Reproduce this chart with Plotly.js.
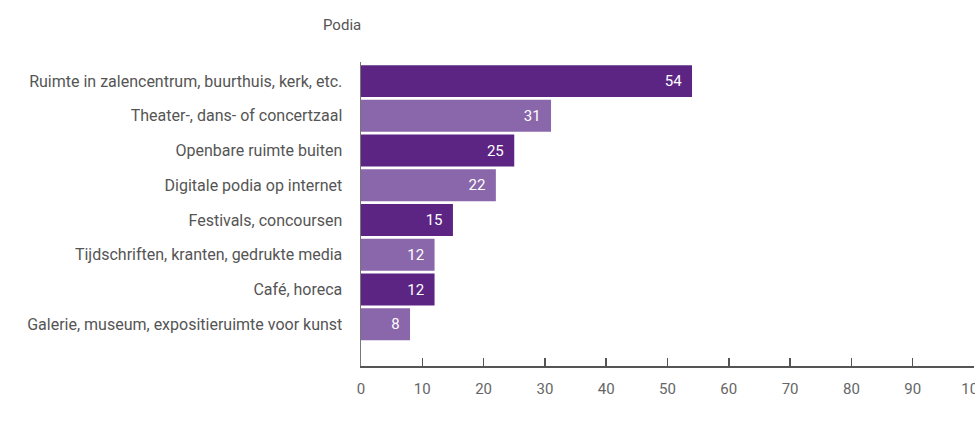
<!DOCTYPE html>
<html><head><meta charset="utf-8">
<script src="https://cdn.plot.ly/plotly-3.0.1.min.js"></script>
<style>html,body{margin:0;padding:0;background:#fff;overflow:hidden}#chart{width:975px;height:445px}</style>
</head><body><div id="chart"></div>
<script>
const categories = [
  "Ruimte in zalencentrum, buurthuis, kerk, etc.",
  "Theater-, dans- of concertzaal",
  "Openbare ruimte buiten",
  "Digitale podia op internet",
  "Festivals, concoursen",
  "Tijdschriften, kranten, gedrukte media",
  "Café, horeca",
  "Galerie, museum, expositieruimte voor kunst"
];
const values = [54, 31, 25, 22, 15, 12, 12, 8];
const xTicks = [0,10,20,30,40,50,60,70,80,90,100];
const dark = "#5c2483", light = "#8a67aa";
const colors = categories.map((c,i) => i % 2 === 0 ? dark : light);

const trace = {
  type: "bar", orientation: "h",
  y: categories, x: values,
  marker: {color: colors, line: {width: 0}},
  width: 0.92,
  text: values.map(v => v + "\u00a0\u00a0"), textposition: "inside", insidetextanchor: "end",
  textfont: {color: "#ffffff", size: 15, family: "Roboto, sans-serif"},
  hoverinfo: "none", cliponaxis: false
};
const layout = {
  width: 975, height: 445,
  margin: {l: 361, r: 1, t: 62, b: 79},
  paper_bgcolor: "#fff", plot_bgcolor: "#fff",
  showlegend: false,
  font: {family: "Roboto, sans-serif", color: "#555", size: 15},
  annotations: [{text: "Podia", xref: "paper", yref: "paper", x: -0.0646, y: 1.0, xanchor: "left", yanchor: "bottom", yshift: 26, showarrow: false, font: {size: 15, color: "#555"}}],
  xaxis: {
    range: [0, 100], tickvals: xTicks, ticktext: xTicks.map(String),
    showgrid: false, zeroline: false, showline: true, linecolor: "#555", linewidth: 1.5,
    ticks: "inside", ticklen: 8, tickcolor: "#555", tickwidth: 1.5,
    tickfont: {size: 15, color: "#666"}, ticklabelstandoff: 8, ticklabeloverflow: "allow", fixedrange: true
  },
  yaxis: {
    type: "category", range: [8.2, -0.55],
    showgrid: false, zeroline: false, showline: true, linecolor: "#777", linewidth: 1.5,
    ticks: "", tickfont: {size: 16, color: "#555"}, ticklabelstandoff: 14, fixedrange: true
  }
};
Plotly.newPlot("chart", [trace], layout, {displayModeBar: false, staticPlot: true});
</script></body></html>
